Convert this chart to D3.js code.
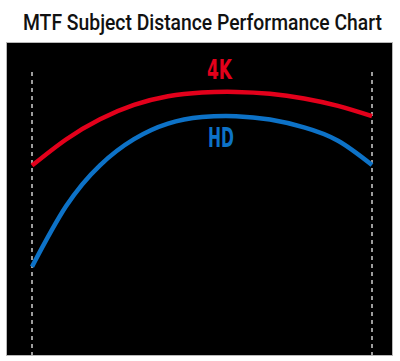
<!DOCTYPE html>
<html>
<head>
<meta charset="utf-8">
<script src="https://cdn.jsdelivr.net/npm/d3@7"></script>
<style>
  html, body { margin: 0; padding: 0; background: #fff; }
  svg { display: block; }
</style>
</head>
<body>
<svg id="chart" width="400" height="361"></svg>
<script>
// ---- data (distance as % of range, MTF as %) ----
const title = "MTF Subject Distance Performance Chart";
const seriesNames = ["4K", "HD"];
const distance = [0, 10, 20, 30, 40, 50, 60, 70, 80, 90, 100];
const mtf4K = [60.9, 69.3, 75.8, 80.4, 83.2, 84.4, 84.6, 84.0, 82.5, 80.1, 76.8];
const mtfHD = [28.4, 47.8, 61.0, 69.4, 74.4, 76.5, 76.8, 75.7, 73.2, 68.9, 61.1];
const limits = [0, 100];

const svg = d3.select("#chart");

// background panel
const panel = { x: 7, y: 43, w: 385, h: 312 };
svg.append("rect")
  .attr("x", panel.x - 0.5).attr("y", panel.y - 0.5)
  .attr("width", panel.w + 1).attr("height", panel.h + 1)
  .attr("fill", "#000").attr("stroke", "#b8b8b8").attr("stroke-width", 1);

const x = d3.scaleLinear().domain([0, 100]).range([32, 372]);
const y = d3.scaleLinear().domain([0, 100]).range([355, 44]);

// dashed limit lines
svg.selectAll("line.lim").data(limits).enter().append("line")
  .attr("class", "lim")
  .attr("x1", d => x(d)).attr("x2", d => x(d))
  .attr("y1", 72).attr("y2", panel.y + panel.h)
  .attr("stroke", "#cfcfcf").attr("stroke-width", 1.5)
  .attr("stroke-dasharray", "4,4");

const line = d3.line()
  .x(d => x(d[0])).y(d => y(d[1]))
  .curve(d3.curveNatural);

const series = [
  { name: seriesNames[0], values: mtf4K, color: "#e3001b" },
  { name: seriesNames[1], values: mtfHD, color: "#0d72c7" }
];

svg.selectAll("path.s").data(series).enter().append("path")
  .attr("class", "s")
  .attr("d", s => line(distance.map((d, i) => [d, s.values[i]])))
  .attr("fill", "none")
  .attr("stroke", s => s.color)
  .attr("stroke-width", 4.5);

// helper: fit text horizontally into a target width by scaling x
function fitText(sel, left, base, width) {
  const natural = sel.node().getComputedTextLength();
  const k = width / natural;
  sel.attr("x", 0).attr("y", 0)
    .attr("transform", `translate(${left},${base}) scale(${k},1)`);
}

// series labels
const labelPos = [{ x: 207, y: 79, len: 25 }, { x: 208, y: 147, len: 26 }];
svg.selectAll("text.lbl").data(series).enter().append("text")
  .attr("class", "lbl")
  .attr("font-family", "'DejaVu Sans Condensed', 'Liberation Sans Narrow', 'DejaVu Sans', sans-serif")
  .attr("font-weight", "bold")
  .attr("font-size", 27)
  .attr("fill", s => s.color)
  .text(s => s.name)
  .each(function (s, i) { fitText(d3.select(this), labelPos[i].x, labelPos[i].y, labelPos[i].len); });

// title
const t = svg.append("text")
  .attr("font-family", "Roboto, 'DejaVu Sans', sans-serif")
  .attr("font-weight", 500)
  .attr("font-size", 22.5)
  .attr("fill", "#111")
  .text(title);
fitText(t, 23, 30, 359);
</script>
</body>
</html>
